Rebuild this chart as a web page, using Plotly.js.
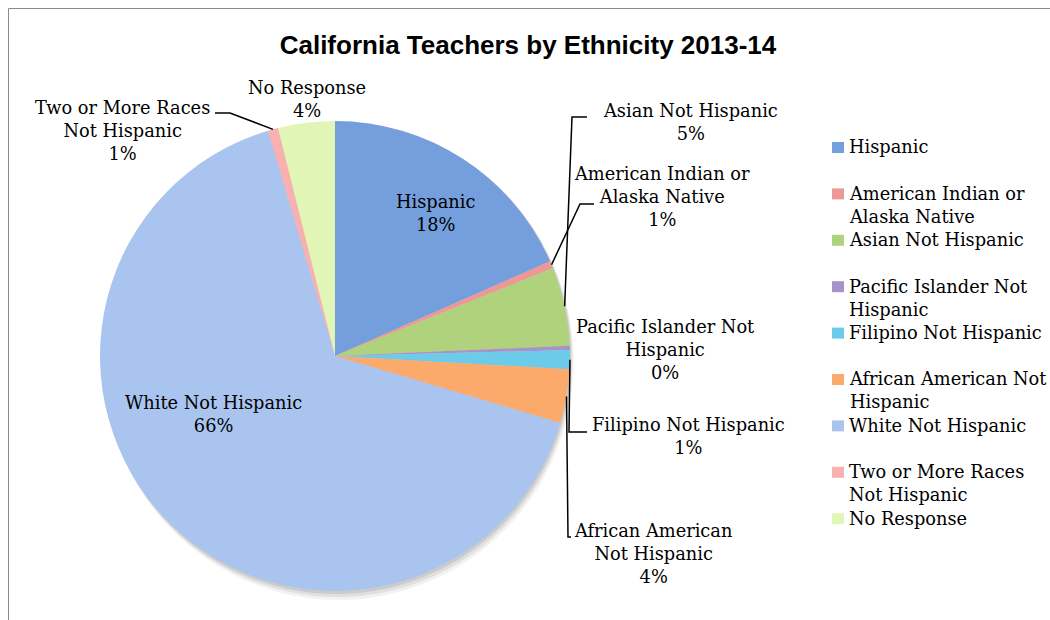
<!DOCTYPE html>
<html><head><meta charset="utf-8">
<script src="https://cdn.plot.ly/plotly-3.0.1.min.js"></script>
<style>html,body{margin:0;padding:0;background:#fff}#chart{width:1050px;height:620px}</style>
</head><body><div id="chart"></div>
<script>
// ---- data ----
const categories = ['Hispanic', 'American Indian or Alaska Native', 'Asian Not Hispanic',
  'Pacific Islander Not Hispanic', 'Filipino Not Hispanic', 'African American Not Hispanic',
  'White Not Hispanic', 'Two or More Races Not Hispanic', 'No Response'];
const shares = [18.4, 0.5, 5.4, 0.3, 1.3, 3.7, 65.8, 0.7, 3.9];
const sliceLabelText = ['Hispanic', 'American Indian or<br>Alaska Native', 'Asian Not Hispanic',
  'Pacific Islander Not<br>Hispanic', 'Filipino Not Hispanic', 'African American<br>Not Hispanic',
  'White Not Hispanic', 'Two or More Races<br>Not Hispanic', 'No Response'];
const legendText = ['Hispanic', 'American Indian or<br>Alaska Native', 'Asian Not Hispanic',
  'Pacific Islander Not<br>Hispanic', 'Filipino Not Hispanic', 'African American Not<br>Hispanic',
  'White Not Hispanic', 'Two or More Races<br>Not Hispanic', 'No Response'];
const colors = ['#759edd', '#ee9896', '#b0d27c', '#a893c8', '#6ccbe8', '#fbaa6c',
  '#a9c4ee', '#f8b0b0', '#e1f6b6'];
const title = 'California Teachers by Ethnicity 2013-14';

// ---- layout constants (pixels) ----
const W = 1050, H = 620;
const CX = 335, CY = 356, R = 235;
const px = x => x / W, py = y => 1 - y / H;
const FONT = 'DejaVu Serif, Liberation Serif, serif';
const FS = 17.8;

// label block centres
const labelPos = [[435, 213], [662, 196], [690, 122], [665, 349], [688, 436],
  [653, 553], [213, 414], [122, 130], [307, 99]];
// leader lines: [elbow, end] or null
const leaders = [null, [[580, 204], [594, 204]], [[572, 117], [587, 117]], null,
  [[569, 432], [587, 432]], [[568, 537], [571, 537]], null, [[230, 113], [215, 113]], null];

const total = shares.reduce((a, b) => a + b, 0);
const pct = shares.map(v => Math.round(v / total * 100) + '%');

const shapes = [];
// chart border
shapes.push({type: 'rect', xref: 'paper', yref: 'paper', x0: px(8.5), x1: px(1100), y0: py(8.5), y1: py(700),
  line: {color: '#8a8a8a', width: 1}, fillcolor: 'rgba(0,0,0,0)', layer: 'below'});
// soft shadow under pie
[[9, 0.05], [6, 0.07], [3, 0.09]].forEach(([o, a]) => {
  shapes.push({type: 'circle', xref: 'paper', yref: 'paper',
    x0: px(CX - R + o * 0.4), x1: px(CX + R + o * 0.4), y0: py(CY + R + o), y1: py(CY - R + o * 0.2),
    line: {width: 0}, fillcolor: 'rgba(0,0,0,' + a + ')', layer: 'below'});
});

// leader lines from slice edge at mid-angle
let cum = 0;
shares.forEach((v, i) => {
  const mid = (cum + v / 2) / total * 2 * Math.PI;
  cum += v;
  if (!leaders[i]) return;
  const ex = CX + R * Math.sin(mid), ey = CY - R * Math.cos(mid);
  const [el, en] = leaders[i];
  shapes.push({type: 'path', xref: 'paper', yref: 'paper',
    path: `M${px(ex)},${py(ey)} L${px(el[0])},${py(el[1])} L${px(en[0])},${py(en[1])}`,
    line: {color: '#000', width: 1.5}});
});

const annotations = [];
// slice labels
categories.forEach((c, i) => {
  annotations.push({xref: 'paper', yref: 'paper', x: px(labelPos[i][0]), y: py(labelPos[i][1]),
    xanchor: 'center', yanchor: 'middle', align: 'center', showarrow: false,
    text: sliceLabelText[i] + '<br>' + pct[i], font: {family: FONT, size: FS, color: '#000'}});
});
// custom legend
const LEG_X = 847, LEG_Y0 = 147, LEG_DY = 46.4, LH = FS * 1.3;
categories.forEach((c, i) => {
  const y = LEG_Y0 + i * LEG_DY;
  shapes.push({type: 'rect', xref: 'paper', yref: 'paper', x0: px(832), x1: px(844), y0: py(y - 5), y1: py(y + 6),
    line: {width: 0}, fillcolor: colors[i]});
  annotations.push({xref: 'paper', yref: 'paper', x: px(LEG_X), y: py(y - LH / 2 - 1),
    xanchor: 'left', yanchor: 'top', align: 'left', showarrow: false,
    text: legendText[i], font: {family: FONT, size: FS, color: '#000'}});
});

const data = [{
  type: 'pie', labels: categories, values: shares, sort: false, direction: 'clockwise', rotation: 0,
  marker: {colors: colors, line: {width: 0}}, textinfo: 'none', hoverinfo: 'label+percent',
  domain: {x: [px(CX - R), px(CX + R)], y: [py(CY + R), py(CY - R)]}
}];

const layout = {
  width: W, height: H, margin: {l: 0, r: 0, t: 0, b: 0}, showlegend: false,
  paper_bgcolor: '#fff',
  title: {text: '<b>' + title + '</b>', x: px(528), xanchor: 'center', y: py(45), yanchor: 'middle',
    font: {family: 'Liberation Sans, Arial, sans-serif', size: 26, color: '#000'}},
  shapes: shapes, annotations: annotations
};
Plotly.newPlot('chart', data, layout, {displayModeBar: false, staticPlot: true});
</script></body></html>
